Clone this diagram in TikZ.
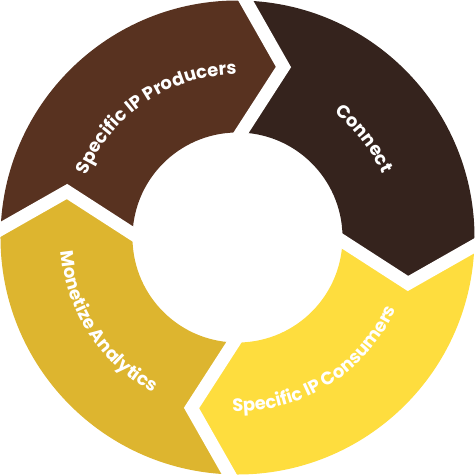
\documentclass[tikz,border=0pt]{standalone}
\usepackage{fontspec}
\setsansfont{Poppins}
\usetikzlibrary{calc,decorations.text}

\definecolor{producerbrown}{HTML}{583220}
\definecolor{connectbrown}{HTML}{35231D}
\definecolor{consumeryellow}{HTML}{FEDD3E}
\definecolor{monetizegold}{HTML}{DDB52F}

\def\Rout{237pt}
\def\Rin{105pt}
\def\Rtip{172pt}
\def\Toff{40pt}

\begin{document}
\begin{tikzpicture}[
    gap/.style={draw=white, line width=13pt, line join=miter},
    ringtext/.style={
      decorate,
      decoration={text along path, text align=center, text color=white,
        text={|\sffamily\bfseries\fontsize{18}{18}\selectfont|#1}}
    }
  ]
  \useasboundingbox (-237.5pt,-237.5pt) rectangle (237.5pt,237.5pt);
  % boundary points: top, right, bottom, left
  \coordinate (top-out) at (88:\Rout);
  \coordinate (top-in) at (88:\Rin);
  \coordinate (top-tip) at ($(88:\Rtip)+(-2:\Toff)$);
  \coordinate (right-out) at (-2:\Rout);
  \coordinate (right-in) at (-2:\Rin);
  \coordinate (right-tip) at ($(-2:\Rtip)+(-92:\Toff)$);
  \coordinate (bottom-out) at (-92:\Rout);
  \coordinate (bottom-in) at (-92:\Rin);
  \coordinate (bottom-tip) at ($(-92:\Rtip)+(-182:\Toff)$);
  \coordinate (left-out) at (178:\Rout);
  \coordinate (left-in) at (178:\Rin);
  \coordinate (left-tip) at ($(178:\Rtip)+(88:\Toff)$);
  % segments
  \fill[producerbrown] (left-out) arc[start angle=178, end angle=88, radius=\Rout]
    -- (top-tip) -- (top-in) arc[start angle=88, end angle=178, radius=\Rin]
    -- (left-tip) -- cycle;
  \fill[connectbrown] (top-out) arc[start angle=88, end angle=-2, radius=\Rout]
    -- (right-tip) -- (right-in) arc[start angle=-2, end angle=88, radius=\Rin]
    -- (top-tip) -- cycle;
  \fill[consumeryellow] (right-out) arc[start angle=-2, end angle=-92, radius=\Rout]
    -- (bottom-tip) -- (bottom-in) arc[start angle=-92, end angle=-2, radius=\Rin]
    -- (right-tip) -- cycle;
  \fill[monetizegold] (bottom-out) arc[start angle=-92, end angle=-182, radius=\Rout]
    -- (left-tip) -- (left-in) arc[start angle=-182, end angle=-92, radius=\Rin]
    -- (bottom-tip) -- cycle;
  % white chevrons between segments
  \draw[gap] ($(top-tip)!1.3!(top-out)$) -- (top-tip) -- ($(top-tip)!1.3!(top-in)$);
  \draw[gap] ($(right-tip)!1.3!(right-out)$) -- (right-tip) -- ($(right-tip)!1.3!(right-in)$);
  \draw[gap] ($(bottom-tip)!1.3!(bottom-out)$) -- (bottom-tip) -- ($(bottom-tip)!1.3!(bottom-in)$);
  \draw[gap] ($(left-tip)!1.3!(left-out)$) -- (left-tip) -- ($(left-tip)!1.3!(left-in)$);
  % labels
  \path[ringtext={Specific IP Producers}] (174:163pt) arc[start angle=174, end angle=74, radius=163pt];
  \path[ringtext={Connect}] (88:158pt) arc[start angle=88, end angle=-12, radius=158pt];
  \path[ringtext={Specific IP Consumers}] (252:174pt) arc[start angle=252, end angle=352, radius=174pt];
  \path[ringtext={Monetize Analytics}] (163:177pt) arc[start angle=163, end angle=263, radius=177pt];
\end{tikzpicture}
\end{document}
